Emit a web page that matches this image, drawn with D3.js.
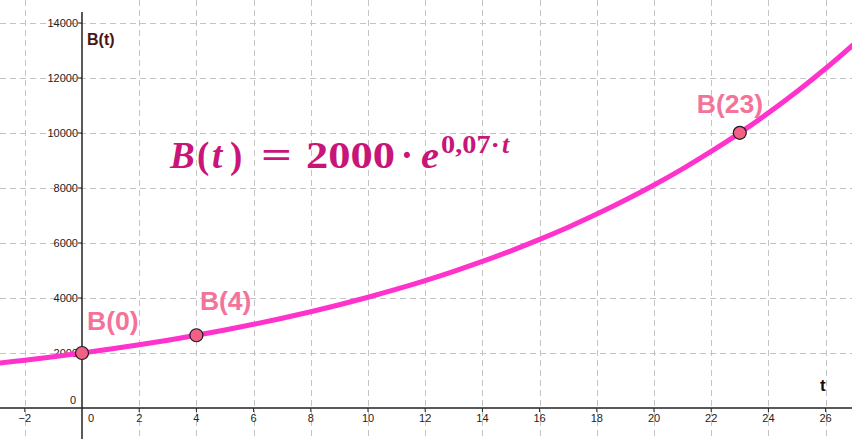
<!DOCTYPE html>
<html>
<head>
<meta charset="utf-8">
<script src="https://cdn.jsdelivr.net/npm/d3@7"></script>
<style>
  html, body { margin: 0; padding: 0; background: #ffffff; }
  svg { display: block; }
</style>
</head>
<body>
<svg id="chart" width="852" height="439"></svg>
<script>
// ---- data ----
const curveT = [-3,-2,-1,0,1,2,3,4,5,6,7,8,9,10,11,12,13,14,15,16,17,18,19,20,21,22,23,24,25,26,27];
const curveB = [1621,1739,1865,2000,2145,2301,2467,2646,2838,3044,3265,3501,3755,4028,4320,4633,4969,5329,5715,6130,6574,7051,7562,8110,8698,9329,10006,10731,11509,12344,13239];
const pointT = [0, 4, 23];
const pointB = [2000, 2646, 10006];
const pointLabels = ["B(0)", "B(4)", "B(23)"];
const xTicks = [-2,0,2,4,6,8,10,12,14,16,18,20,22,24,26];
const yTicks = [0,2000,4000,6000,8000,10000,12000,14000];

const W = 852, H = 439;
const svg = d3.select("#chart");

const x = d3.scaleLinear().domain([-82/28.6, (W-82)/28.6]).range([0, W]);
const y = d3.scaleLinear().domain([-(H-408)/0.0275, 408/0.0275]).range([H, 0]);

// grid
const grid = svg.append("g").attr("stroke", "#c4c4c4").attr("stroke-width", 1).attr("stroke-dasharray", "6,4");
xTicks.filter(d => d !== 0).forEach(d => {
  grid.append("line").attr("x1", Math.round(x(d)) + 0.5).attr("x2", Math.round(x(d)) + 0.5).attr("y1", 0).attr("y2", H);
});
yTicks.filter(d => d !== 0).forEach(d => {
  grid.append("line").attr("y1", Math.round(y(d)) + 0.5).attr("y2", Math.round(y(d)) + 0.5).attr("x1", 0).attr("x2", W);
});

// axes
const x0 = x(0), y0 = y(0);
const axes = svg.append("g").attr("stroke", "#222").attr("stroke-width", 1.5);
axes.append("line").attr("x1", 0).attr("x2", W).attr("y1", y0).attr("y2", y0);
axes.append("line").attr("x1", x0).attr("x2", x0).attr("y1", 12).attr("y2", H);

// ticks
xTicks.filter(d => d !== 0).forEach(d => {
  axes.append("line").attr("x1", x(d)).attr("x2", x(d)).attr("y1", y0).attr("y2", y0 + 4).attr("stroke-width", 1);
});
yTicks.filter(d => d !== 0).forEach(d => {
  axes.append("line").attr("x1", x0 - 4).attr("x2", x0).attr("y1", y(d)).attr("y2", y(d)).attr("stroke-width", 1);
});

// tick labels
const lbl = svg.append("g").attr("font-family", "Liberation Sans, Arial, sans-serif").attr("font-size", 11).attr("fill", "#222");
xTicks.forEach(d => {
  lbl.append("text").attr("x", d === 0 ? x(d) + 9 : x(d)).attr("y", y0 + 14)
    .attr("text-anchor", "middle").text(d === -2 ? "\u22122" : d);
});
yTicks.forEach(d => {
  lbl.append("text").attr("x", d === 0 ? x0 - 6 : x0 - 4).attr("y", d === 0 ? y0 - 4 : y(d) + 4)
    .attr("text-anchor", "end").text(d);
});

// axis names
svg.append("text").attr("x", x0 + 5).attr("y", 45).attr("font-family", "Liberation Sans, Arial, sans-serif")
  .attr("font-weight", "bold").attr("font-size", 16).attr("fill", "#4a1414").text("B(t)");
svg.append("text").attr("x", 820).attr("y", 391).attr("font-family", "Liberation Sans, Arial, sans-serif")
  .attr("font-weight", "bold").attr("font-size", 17).attr("fill", "#111").text("t");

// curve
const line = d3.line().x((d, i) => x(curveT[i])).y(d => y(d)).curve(d3.curveCatmullRom);
svg.append("path").datum(curveB).attr("d", line).attr("fill", "none")
  .attr("stroke", "#ff33cc").attr("stroke-width", 5).attr("stroke-linecap", "round");

// points
pointT.forEach((t, i) => {
  svg.append("circle").attr("cx", x(t)).attr("cy", y(pointB[i])).attr("r", 6.5)
    .attr("fill", "#f06185").attr("stroke", "#1a1a1a").attr("stroke-width", 1.2);
});
const labelDx = [5, 3.5, -43];
const labelDy = [-23, -25, -20];
pointT.forEach((t, i) => {
  svg.append("text").attr("x", x(t) + labelDx[i]).attr("y", y(pointB[i]) + labelDy[i])
    .attr("font-family", "Liberation Sans, Arial, sans-serif").attr("font-weight", "bold")
    .attr("font-size", 26.5).attr("fill", "#f4739a").text(pointLabels[i]);
});

// formula  B(t) = 2000 · e^{0,07·t}
const fg = svg.append("g").attr("font-family", "Liberation Serif, DejaVu Serif, serif")
  .attr("font-weight", "bold").attr("fill", "#c8157a").attr("font-size", 37);
const base = 168, sup = 153;
function piece(txt, px, py, opts) {
  const t = fg.append("text").attr("x", px).attr("y", py).text(txt);
  if (opts && opts.italic) t.attr("font-style", "italic");
  if (opts && opts.size) t.attr("font-size", opts.size);
  if (opts && opts.len) t.attr("textLength", opts.len).attr("lengthAdjust", "spacingAndGlyphs");
  if (opts && opts.anchor) t.attr("text-anchor", opts.anchor);
  return t;
}
piece("B", 170, base, {italic: true});
piece("(", 197, base);
piece("t", 212, base, {italic: true});
piece(")", 230, base);
piece("=", 261, base, {len: 31});
piece("2000", 306, base, {len: 89});
piece("\u00b7", 407, base, {anchor: "middle"});
piece("e", 421, base, {italic: true, len: 18});
piece("0,07\u00b7", 441, sup, {size: 26, len: 59});
piece("t", 502, sup, {italic: true, size: 26});
</script>
</body>
</html>
